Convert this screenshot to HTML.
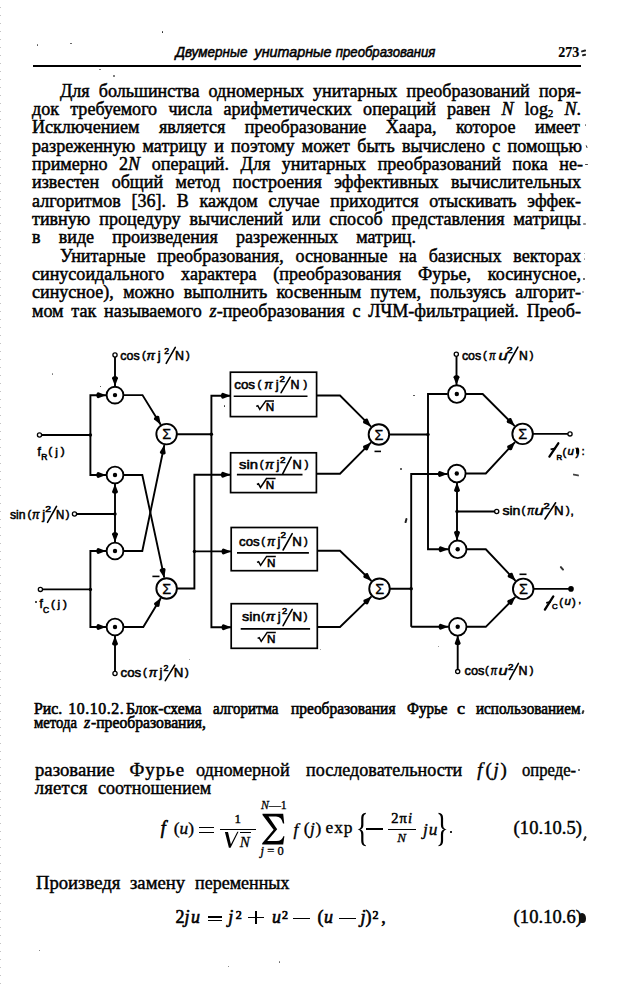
<!DOCTYPE html>
<html><head><meta charset="utf-8"><style>
html,body{margin:0;padding:0;background:#fff;}
body{width:641px;height:990px;position:relative;overflow:hidden;}
.edge{position:absolute;left:0;top:0;width:1px;height:990px;background:repeating-linear-gradient(to bottom,transparent 0,transparent 7px,#c4c4c4 7px,#c4c4c4 8px);}
.t{position:absolute;white-space:nowrap;font-family:"Liberation Serif",serif;color:#000;-webkit-text-stroke:0.5px #000;}
.t sub{font-size:11px;vertical-align:-2px;line-height:0}
.t sup{font-size:11px;vertical-align:6px;line-height:0}
.dg{position:absolute;left:0;top:0}
.cp{font-family:"Liberation Serif",serif;fill:#000;stroke:#000;stroke-width:0.5px}
.lw{font-family:"Liberation Serif",serif;fill:#000;stroke:#000;stroke-width:0.6px}
.hd{font-family:"Liberation Sans",sans-serif;font-style:italic;fill:#000;stroke:#000;stroke-width:0.55px}
.pn{font-family:"Liberation Serif",serif;font-weight:bold;fill:#000;stroke:#000;stroke-width:0.2px}
.lb{font-family:"Liberation Sans",sans-serif;fill:#000;stroke:#000;stroke-width:0.55px}
.thin{stroke-width:0.1px}
.sup{font-size:9px}
.sub{font-size:9px}
.sg{font-family:"Liberation Sans",sans-serif;font-size:14.5px;fill:#000;stroke:#000;stroke-width:0.3px}
</style></head><body>
<div class="edge"></div>
<svg style="position:absolute;left:0;top:0" width="641" height="80"><g class="hd"><text x="175.5" y="57.2" textLength="72" lengthAdjust="spacingAndGlyphs" font-size="14.5" >Двумерные</text><text x="254.5" y="57.2" textLength="77" lengthAdjust="spacingAndGlyphs" font-size="14.5" >унитарные</text><text x="335.8" y="57.2" textLength="99.6" lengthAdjust="spacingAndGlyphs" font-size="14.5" >преобразования</text></g><g class="pn"><text x="558.3" y="56.8" textLength="21" lengthAdjust="spacingAndGlyphs" font-size="15.5" >273</text></g></svg>
<div style="position:absolute;left:32.5px;top:65.3px;width:548.5px;height:1.6px;background:#000"></div>
<div class="t" style="left:60px;top:80.69px;font-size:19.0px;line-height:19.0px;width:548.42px;text-align:justify;text-align-last:justify;transform:scaleX(0.95);transform-origin:0 0;">Для большинства одномерных унитарных преобразований поря-</div><div class="t" style="left:32px;top:99.01px;font-size:19.0px;line-height:19.0px;width:577.89px;text-align:justify;text-align-last:justify;transform:scaleX(0.95);transform-origin:0 0;">док требуемого числа арифметических операций равен <i>N</i> log<sub>2</sub> <i>N</i>.</div><div class="t" style="left:32px;top:117.34px;font-size:19.0px;line-height:19.0px;width:576.84px;text-align:justify;text-align-last:justify;transform:scaleX(0.95);transform-origin:0 0;">Исключением является преобразование Хаара, которое имеет</div><div class="t" style="left:32px;top:135.66px;font-size:19.0px;line-height:19.0px;width:578.95px;text-align:justify;text-align-last:justify;transform:scaleX(0.95);transform-origin:0 0;">разреженную матрицу и поэтому может быть вычислено с помощью</div><div class="t" style="left:32px;top:153.99px;font-size:19.0px;line-height:19.0px;width:580.00px;text-align:justify;text-align-last:justify;transform:scaleX(0.95);transform-origin:0 0;">примерно 2<i>N</i> операций. Для унитарных преобразований пока не-</div><div class="t" style="left:32px;top:172.31px;font-size:19.0px;line-height:19.0px;width:577.89px;text-align:justify;text-align-last:justify;transform:scaleX(0.95);transform-origin:0 0;">известен общий метод построения эффективных вычислительных</div><div class="t" style="left:32px;top:190.64px;font-size:19.0px;line-height:19.0px;width:577.89px;text-align:justify;text-align-last:justify;transform:scaleX(0.95);transform-origin:0 0;">алгоритмов [36]. В каждом случае приходится отыскивать эффек-</div><div class="t" style="left:32px;top:208.96px;font-size:19.0px;line-height:19.0px;width:577.89px;text-align:justify;text-align-last:justify;transform:scaleX(0.95);transform-origin:0 0;">тивную процедуру вычислений или способ представления матрицы</div><div class="t" style="left:32px;top:227.29px;font-size:19.0px;line-height:19.0px;width:404.21px;text-align:justify;text-align-last:justify;transform:scaleX(0.95);transform-origin:0 0;">в виде произведения разреженных матриц.</div><div class="t" style="left:60px;top:245.61px;font-size:19.0px;line-height:19.0px;width:548.42px;text-align:justify;text-align-last:justify;transform:scaleX(0.95);transform-origin:0 0;">Унитарные преобразования, основанные на базисных векторах</div><div class="t" style="left:32px;top:263.94px;font-size:19.0px;line-height:19.0px;width:577.89px;text-align:justify;text-align-last:justify;transform:scaleX(0.95);transform-origin:0 0;">синусоидального характера (преобразования Фурье, косинусное,</div><div class="t" style="left:32px;top:282.26px;font-size:19.0px;line-height:19.0px;width:577.89px;text-align:justify;text-align-last:justify;transform:scaleX(0.95);transform-origin:0 0;">синусное), можно выполнить косвенным путем, пользуясь алгорит-</div><div class="t" style="left:32px;top:300.59px;font-size:19.0px;line-height:19.0px;width:577.89px;text-align:justify;text-align-last:justify;transform:scaleX(0.95);transform-origin:0 0;">мом так называемого <i>z</i>-преобразования с ЛЧМ-фильтрацией. Преоб-</div>
<svg class="dg" width="641" height="990" viewBox="0 0 641 990"><g stroke="#000" fill="none" stroke-linecap="butt"><line x1="115" y1="357" x2="115" y2="386" stroke-width="1.9"/><path d="M115.00,386.00 L112.00,378.20 C112.00,375.70 118.00,375.70 118.00,378.20 Z" stroke="none" fill="#000"/><circle cx="115" cy="355" r="2.1" fill="#fff" stroke-width="1.3"/><line x1="115" y1="671.5" x2="115" y2="636" stroke-width="1.9"/><path d="M115.00,636.00 L118.00,643.80 C118.00,646.30 112.00,646.30 112.00,643.80 Z" stroke="none" fill="#000"/><circle cx="115" cy="673.5" r="2.1" fill="#fff" stroke-width="1.3"/><line x1="76.5" y1="514" x2="115" y2="514" stroke-width="1.9"/><circle cx="74.5" cy="514" r="2.1" fill="#fff" stroke-width="1.3"/><line x1="115" y1="484" x2="115" y2="542" stroke-width="1.9"/><path d="M115.00,484.00 L118.00,491.80 C118.00,494.30 112.00,494.30 112.00,491.80 Z" stroke="none" fill="#000"/><path d="M115.00,542.00 L112.00,534.20 C112.00,531.70 118.00,531.70 118.00,534.20 Z" stroke="none" fill="#000"/><circle cx="115" cy="514" r="1.7" fill="#000" stroke="none"/><line x1="41.5" y1="435" x2="90.4" y2="435" stroke-width="1.9"/><circle cx="39.5" cy="435" r="2.1" fill="#fff" stroke-width="1.3"/><polyline points="106,395.2 90.4,395.2 90.4,475 106,475" fill="none" stroke-width="1.9" stroke-linejoin="miter"/><path d="M106.00,395.20 L98.20,398.20 C95.70,398.20 95.70,392.20 98.20,392.20 Z" stroke="none" fill="#000"/><path d="M106.00,475.00 L98.20,478.00 C95.70,478.00 95.70,472.00 98.20,472.00 Z" stroke="none" fill="#000"/><circle cx="90.4" cy="435" r="1.7" fill="#000" stroke="none"/><line x1="42.4" y1="589.4" x2="90.4" y2="589.4" stroke-width="1.9"/><circle cx="40.4" cy="589.4" r="2.1" fill="#fff" stroke-width="1.3"/><polyline points="106,551 90.4,551 90.4,627 106,627" fill="none" stroke-width="1.9" stroke-linejoin="miter"/><path d="M106.00,551.00 L98.20,554.00 C95.70,554.00 95.70,548.00 98.20,548.00 Z" stroke="none" fill="#000"/><path d="M106.00,627.00 L98.20,630.00 C95.70,630.00 95.70,624.00 98.20,624.00 Z" stroke="none" fill="#000"/><circle cx="90.4" cy="589.4" r="1.7" fill="#000" stroke="none"/><polyline points="124,395.1 142.5,395.1 160.76,424.66" fill="none" stroke-width="1.9" stroke-linejoin="miter"/><path d="M160.76,424.66 L154.11,419.60 C152.79,417.47 157.90,414.32 159.21,416.45 Z" stroke="none" fill="#000"/><polyline points="124,551 142.3,551 164.34,444.97" fill="none" stroke-width="1.9" stroke-linejoin="miter"/><path d="M164.34,444.97 L165.69,453.22 C165.18,455.66 159.31,454.44 159.82,452.00 Z" stroke="none" fill="#000"/><polyline points="124,475 142.3,475 164.28,577.65" fill="none" stroke-width="1.9" stroke-linejoin="miter"/><path d="M164.28,577.65 L159.71,570.65 C159.19,568.21 165.06,566.95 165.58,569.39 Z" stroke="none" fill="#000"/><polyline points="124,627 143.3,627 160.85,598.0" fill="none" stroke-width="1.9" stroke-linejoin="miter"/><path d="M160.85,598.00 L159.38,606.23 C158.08,608.37 152.95,605.26 154.24,603.12 Z" stroke="none" fill="#000"/><line x1="152.4" y1="576.4" x2="159.5" y2="576.4" stroke-width="1.6"/><line x1="176" y1="434.3" x2="211.4" y2="434.3" stroke-width="1.9"/><polyline points="230.6,395.8 211.4,395.8 211.4,627.3 231.2,627.3" fill="none" stroke-width="1.9" stroke-linejoin="miter"/><path d="M230.60,395.80 L222.80,398.80 C220.30,398.80 220.30,392.80 222.80,392.80 Z" stroke="none" fill="#000"/><path d="M231.20,627.30 L223.40,630.30 C220.90,630.30 220.90,624.30 223.40,624.30 Z" stroke="none" fill="#000"/><circle cx="211.4" cy="434.3" r="1.7" fill="#000" stroke="none"/><polyline points="176.5,588.5 194.4,588.5 194.4,474.7 230.6,474.7" fill="none" stroke-width="1.9" stroke-linejoin="miter"/><line x1="194.4" y1="551.4" x2="231.2" y2="551.4" stroke-width="1.9"/><path d="M230.60,474.70 L222.80,477.70 C220.30,477.70 220.30,471.70 222.80,471.70 Z" stroke="none" fill="#000"/><path d="M231.20,551.40 L223.40,554.40 C220.90,554.40 220.90,548.40 223.40,548.40 Z" stroke="none" fill="#000"/><circle cx="194.4" cy="551.4" r="1.7" fill="#000" stroke="none"/><circle cx="115" cy="395.1" r="8.4" fill="#fff" stroke-width="1.85"/><circle cx="115" cy="395.1" r="2.2" fill="#000" stroke="none"/><circle cx="115" cy="475" r="8.4" fill="#fff" stroke-width="1.85"/><circle cx="115" cy="475" r="2.2" fill="#000" stroke="none"/><circle cx="115" cy="551" r="8.4" fill="#fff" stroke-width="1.85"/><circle cx="115" cy="551" r="2.2" fill="#000" stroke="none"/><circle cx="115" cy="627" r="8.4" fill="#fff" stroke-width="1.85"/><circle cx="115" cy="627" r="2.2" fill="#000" stroke="none"/><circle cx="166.6" cy="434.1" r="10.25" fill="#fff" stroke-width="1.9"/><text x="166.79999999999998" y="439.3" text-anchor="middle" class="sg">Σ</text><circle cx="166.6" cy="588.5" r="10.25" fill="#fff" stroke-width="1.9"/><text x="166.79999999999998" y="593.7" text-anchor="middle" class="sg">Σ</text><rect x="230.4" y="372.2" width="86.20000000000002" height="44.400000000000034" fill="none" stroke-width="1.7"/><rect x="230.6" y="452.8" width="85.79999999999998" height="39.80000000000001" fill="none" stroke-width="1.7"/><rect x="231.2" y="527.5" width="86.10000000000002" height="43.200000000000045" fill="none" stroke-width="1.7"/><rect x="231.2" y="603.7" width="86.10000000000002" height="44.59999999999991" fill="none" stroke-width="1.7"/><line x1="233.7" y1="396.2" x2="307.5" y2="396.2" stroke-width="1.6"/><line x1="236.9" y1="474.6" x2="302.5" y2="474.6" stroke-width="1.6"/><line x1="237" y1="552.9" x2="308.9" y2="552.9" stroke-width="1.6"/><line x1="240.7" y1="628.9" x2="310.1" y2="628.9" stroke-width="1.6"/><text x="234.20000000000002" y="389.3" class="lb" font-size="13" textLength="20.90" lengthAdjust="spacingAndGlyphs">cos</text><text x="257.59999999999997" y="388.40000000000003" class="lb" font-size="11.2" class="lb thin">(</text><text x="264.2" y="389.3" class="lb" font-size="12.5" font-style="italic" textLength="8.50" lengthAdjust="spacingAndGlyphs">π</text><text x="275.7" y="389.3" class="lb" font-size="13" >j</text><text x="279.5" y="382.0" class="lb" font-size="8.6" textLength="5.40" lengthAdjust="spacingAndGlyphs">2</text><line x1="290.2" y1="377.1" x2="281.1" y2="392.7" stroke-width="1.6" stroke-linecap="round"/><text x="290.5" y="389.3" class="lb" font-size="12.6" textLength="9.00" lengthAdjust="spacingAndGlyphs">N</text><text x="303.40000000000003" y="388.40000000000003" class="lb" font-size="11.2" class="lb thin">)</text><path d="M256.2,406.4 L257.8,405.7 L259.8,409.4 L265.8,400.9 L274,400.9" stroke-width="1.5" fill="none"/><text x="265.65" y="410.9" class="lb" font-size="11.7" >N</text><text x="239.1" y="469" class="lb" font-size="13" textLength="19.00" lengthAdjust="spacingAndGlyphs">sin</text><text x="259.7" y="468.1" class="lb" font-size="11.2" class="lb thin">(</text><text x="265.0" y="469" class="lb" font-size="12.5" font-style="italic" textLength="8.80" lengthAdjust="spacingAndGlyphs">π</text><text x="276.4" y="469" class="lb" font-size="13" >j</text><text x="279.90000000000003" y="462.6" class="lb" font-size="8.6" textLength="5.50" lengthAdjust="spacingAndGlyphs">2</text><line x1="291.2" y1="457.1" x2="282.8" y2="473.7" stroke-width="1.6" stroke-linecap="round"/><text x="292.5" y="469" class="lb" font-size="12.6" textLength="9.30" lengthAdjust="spacingAndGlyphs">N</text><text x="304.8" y="468.1" class="lb" font-size="11.2" class="lb thin">)</text><path d="M256.9,484.5 L258.5,483.8 L260.5,487.5 L266.5,478.5 L275.6,478.5" stroke-width="1.5" fill="none"/><text x="265.65" y="489" class="lb" font-size="11.7" >N</text><text x="239.1" y="546.2" class="lb" font-size="13" textLength="20.60" lengthAdjust="spacingAndGlyphs">cos</text><text x="261.29999999999995" y="545.3000000000001" class="lb" font-size="11.2" class="lb thin">(</text><text x="266.9" y="546.2" class="lb" font-size="12.5" font-style="italic" textLength="8.10" lengthAdjust="spacingAndGlyphs">π</text><text x="277.4" y="546.2" class="lb" font-size="13" >j</text><text x="280.5" y="538.3000000000001" class="lb" font-size="8.6" textLength="5.50" lengthAdjust="spacingAndGlyphs">2</text><line x1="292.2" y1="533.7" x2="283.1" y2="550" stroke-width="1.6" stroke-linecap="round"/><text x="292.20000000000005" y="546.2" class="lb" font-size="12.6" textLength="9.60" lengthAdjust="spacingAndGlyphs">N</text><text x="304.1" y="545.3000000000001" class="lb" font-size="11.2" class="lb thin">)</text><path d="M257,562.4 L258.6,561.6999999999999 L260.6,565.4 L266.6,556.4 L275.8,556.4" stroke-width="1.5" fill="none"/><text x="267.0" y="566.9" class="lb" font-size="11.7" >N</text><text x="242.1" y="621.3" class="lb" font-size="13" textLength="18.30" lengthAdjust="spacingAndGlyphs">sin</text><text x="261.09999999999997" y="620.4" class="lb" font-size="11.2" class="lb thin">(</text><text x="265.8" y="621.3" class="lb" font-size="12.5" font-style="italic" textLength="9.30" lengthAdjust="spacingAndGlyphs">π</text><text x="277.7" y="621.3" class="lb" font-size="13" >j</text><text x="282.1" y="614.3000000000001" class="lb" font-size="8.6" textLength="5.20" lengthAdjust="spacingAndGlyphs">2</text><line x1="292.2" y1="609.4" x2="283.1" y2="625.7" stroke-width="1.6" stroke-linecap="round"/><text x="292.20000000000005" y="621.3" class="lb" font-size="12.6" textLength="9.90" lengthAdjust="spacingAndGlyphs">N</text><text x="303.8" y="620.4" class="lb" font-size="11.2" class="lb thin">)</text><path d="M257.6,638.4 L259.20000000000005,637.6999999999999 L261.20000000000005,641.4 L267.20000000000005,632.4 L275.8,632.4" stroke-width="1.5" fill="none"/><text x="267.0" y="642.9" class="lb" font-size="11.7" >N</text><polyline points="316.4,395.5 340,395.5 371.06,426.64" fill="none" stroke-width="1.9" stroke-linejoin="miter"/><path d="M371.06,426.64 L363.43,423.24 C361.66,421.47 365.91,417.23 367.68,419.00 Z" stroke="none" fill="#000"/><polyline points="316.4,473.7 340,473.7 371.08,442.38" fill="none" stroke-width="1.9" stroke-linejoin="miter"/><path d="M371.08,442.38 L367.72,450.03 C365.95,451.80 361.70,447.58 363.46,445.80 Z" stroke="none" fill="#000"/><polyline points="317.3,550.7 340,550.7 371.5,581.0" fill="none" stroke-width="1.9" stroke-linejoin="miter"/><path d="M371.50,581.00 L363.80,577.75 C362.00,576.02 366.16,571.70 367.96,573.43 Z" stroke="none" fill="#000"/><polyline points="317.3,627 340,627 371.53,596.43" fill="none" stroke-width="1.9" stroke-linejoin="miter"/><path d="M371.53,596.43 L368.02,604.01 C366.22,605.75 362.05,601.45 363.84,599.71 Z" stroke="none" fill="#000"/><line x1="374.5" y1="451.4" x2="381" y2="451.4" stroke-width="1.6"/><line x1="389" y1="434.5" x2="428" y2="434.5" stroke-width="1.9"/><polyline points="447.5,394 428,394 428,549.3 448.3,549.3" fill="none" stroke-width="1.9" stroke-linejoin="miter"/><path d="M448.30,549.30 L440.50,552.30 C438.00,552.30 438.00,546.30 440.50,546.30 Z" stroke="none" fill="#000"/><circle cx="428" cy="434.5" r="1.7" fill="#000" stroke="none"/><polyline points="390,588.7 411.2,588.7 411.2,474 447.5,474" fill="none" stroke-width="1.9" stroke-linejoin="miter"/><line x1="411.2" y1="588.7" x2="411.2" y2="626.8" stroke-width="1.9"/><line x1="411.2" y1="626.8" x2="448.3" y2="626.8" stroke-width="1.9"/><path d="M447.50,474.00 L439.70,477.00 C437.20,477.00 437.20,471.00 439.70,471.00 Z" stroke="none" fill="#000"/><path d="M448.30,626.80 L440.50,629.80 C438.00,629.80 438.00,623.80 440.50,623.80 Z" stroke="none" fill="#000"/><circle cx="411.2" cy="588.7" r="1.7" fill="#000" stroke="none"/><line x1="456.5" y1="356.5" x2="456.5" y2="385" stroke-width="1.9"/><path d="M456.50,385.00 L453.50,377.20 C453.50,374.70 459.50,374.70 459.50,377.20 Z" stroke="none" fill="#000"/><circle cx="456.3" cy="354.3" r="2.1" fill="#fff" stroke-width="1.3"/><line x1="498.5" y1="511.5" x2="457" y2="511.5" stroke-width="1.9"/><circle cx="496.7" cy="511.5" r="2.1" fill="#fff" stroke-width="1.3"/><line x1="457" y1="482.5" x2="457" y2="540.5" stroke-width="1.9"/><path d="M457.00,482.50 L460.00,490.30 C460.00,492.80 454.00,492.80 454.00,490.30 Z" stroke="none" fill="#000"/><path d="M457.00,540.50 L454.00,532.70 C454.00,530.20 460.00,530.20 460.00,532.70 Z" stroke="none" fill="#000"/><circle cx="457" cy="511.5" r="1.7" fill="#000" stroke="none"/><line x1="457.7" y1="669.5" x2="457.7" y2="635.5" stroke-width="1.9"/><path d="M457.70,635.50 L460.70,643.30 C460.70,645.80 454.70,645.80 454.70,643.30 Z" stroke="none" fill="#000"/><circle cx="457.7" cy="671.6" r="2.1" fill="#fff" stroke-width="1.3"/><polyline points="466,394 482.7,394 514.75,426.05" fill="none" stroke-width="1.9" stroke-linejoin="miter"/><path d="M514.75,426.05 L507.11,422.66 C505.35,420.89 509.59,416.65 511.36,418.41 Z" stroke="none" fill="#000"/><polyline points="466,473.5 485.8,473.5 515.04,442.03" fill="none" stroke-width="1.9" stroke-linejoin="miter"/><path d="M515.04,442.03 L511.93,449.79 C510.23,451.62 505.83,447.53 507.53,445.70 Z" stroke="none" fill="#000"/><polyline points="467,549.3 485.8,549.3 515.58,580.83" fill="none" stroke-width="1.9" stroke-linejoin="miter"/><path d="M515.58,580.83 L508.04,577.22 C506.33,575.40 510.69,571.28 512.41,573.10 Z" stroke="none" fill="#000"/><polyline points="467,626.8 485.8,626.8 515.4,596.8" fill="none" stroke-width="1.9" stroke-linejoin="miter"/><path d="M515.40,596.80 L512.06,604.46 C510.30,606.24 506.03,602.02 507.79,600.25 Z" stroke="none" fill="#000"/><line x1="533" y1="433.9" x2="568" y2="433.9" stroke-width="1.9"/><circle cx="570" cy="433.9" r="2.1" fill="#fff" stroke-width="1.3"/><line x1="533.5" y1="588.9" x2="571" y2="588.9" stroke-width="1.9"/><circle cx="571" cy="588.9" r="2.8" fill="#000" stroke="none"/><line x1="519.5" y1="574.3" x2="526.5" y2="574.3" stroke-width="1.6"/><circle cx="456.8" cy="394" r="8.8" fill="#fff" stroke-width="1.85"/><circle cx="456.8" cy="394" r="2.2" fill="#000" stroke="none"/><circle cx="456.8" cy="473.5" r="8.8" fill="#fff" stroke-width="1.85"/><circle cx="456.8" cy="473.5" r="2.2" fill="#000" stroke="none"/><circle cx="457.7" cy="549.3" r="8.8" fill="#fff" stroke-width="1.85"/><circle cx="457.7" cy="549.3" r="2.2" fill="#000" stroke="none"/><circle cx="457.7" cy="626.8" r="8.8" fill="#fff" stroke-width="1.85"/><circle cx="457.7" cy="626.8" r="2.2" fill="#000" stroke="none"/><circle cx="378.9" cy="434.5" r="10.25" fill="#fff" stroke-width="1.9"/><text x="379.09999999999997" y="439.7" text-anchor="middle" class="sg">Σ</text><circle cx="379.5" cy="588.7" r="10.25" fill="#fff" stroke-width="1.9"/><text x="379.7" y="593.9000000000001" text-anchor="middle" class="sg">Σ</text><circle cx="522.6" cy="433.9" r="10.25" fill="#fff" stroke-width="1.9"/><text x="522.8000000000001" y="439.09999999999997" text-anchor="middle" class="sg">Σ</text><circle cx="523.2" cy="588.9" r="10.25" fill="#fff" stroke-width="1.9"/><text x="523.4000000000001" y="594.1" text-anchor="middle" class="sg">Σ</text><text x="120.30000000000001" y="360.2" class="lb" font-size="13" textLength="19.30" lengthAdjust="spacingAndGlyphs">cos</text><text x="141.9" y="359.3" class="lb" font-size="11.2" class="lb thin">(</text><text x="146.5" y="360.2" class="lb" font-size="12.5" font-style="italic" textLength="8.50" lengthAdjust="spacingAndGlyphs">π</text><text x="157.7" y="360.2" class="lb" font-size="13" >j</text><text x="164.29999999999998" y="353.5" class="lb" font-size="8.6" textLength="4.80" lengthAdjust="spacingAndGlyphs">2</text><line x1="175.3" y1="347.4" x2="166.2" y2="363.4" stroke-width="1.6" stroke-linecap="round"/><text x="175.0" y="360.2" class="lb" font-size="12.6" textLength="9.00" lengthAdjust="spacingAndGlyphs">N</text><text x="186.0" y="359.3" class="lb" font-size="11.2" class="lb thin">)</text><text x="9.9" y="518.5" class="lb" font-size="13" textLength="15.60" lengthAdjust="spacingAndGlyphs">sin</text><text x="27.4" y="517.6" class="lb" font-size="11.2" class="lb thin">(</text><text x="31.999999999999996" y="518.5" class="lb" font-size="12.5" font-style="italic" textLength="7.50" lengthAdjust="spacingAndGlyphs">π</text><text x="42.2" y="518.5" class="lb" font-size="13" >j</text><text x="45.2" y="512.1" class="lb" font-size="8.6" textLength="5.80" lengthAdjust="spacingAndGlyphs">2</text><line x1="56.5" y1="506.4" x2="47.5" y2="522.3" stroke-width="1.6" stroke-linecap="round"/><text x="56.0" y="518.5" class="lb" font-size="12.6" textLength="8.30" lengthAdjust="spacingAndGlyphs">N</text><text x="65.7" y="517.6" class="lb" font-size="11.2" class="lb thin">)</text><text x="120.60000000000001" y="676.7" class="lb" font-size="13" textLength="20.60" lengthAdjust="spacingAndGlyphs">cos</text><text x="143.1" y="675.8000000000001" class="lb" font-size="11.2" class="lb thin">(</text><text x="148.7" y="676.7" class="lb" font-size="12.5" font-style="italic" textLength="8.50" lengthAdjust="spacingAndGlyphs">π</text><text x="159.6" y="676.7" class="lb" font-size="13" >j</text><text x="163.6" y="670.9" class="lb" font-size="8.6" textLength="4.90" lengthAdjust="spacingAndGlyphs">2</text><line x1="174.7" y1="665.1" x2="165.3" y2="680.7" stroke-width="1.6" stroke-linecap="round"/><text x="173.79999999999998" y="676.7" class="lb" font-size="12.6" textLength="9.60" lengthAdjust="spacingAndGlyphs">N</text><text x="185.10000000000002" y="675.8000000000001" class="lb" font-size="11.2" class="lb thin">)</text><text x="461.9" y="359.8" class="lb" font-size="13" textLength="19.30" lengthAdjust="spacingAndGlyphs">cos</text><text x="483.09999999999997" y="358.90000000000003" class="lb" font-size="11.2" class="lb thin">(</text><text x="489.09999999999997" y="359.8" class="lb" font-size="12.5" font-style="italic" textLength="6.60" lengthAdjust="spacingAndGlyphs">π</text><text x="498.59999999999997" y="359.8" class="lb" font-size="13" font-style="italic" textLength="9.20" lengthAdjust="spacingAndGlyphs">u</text><text x="506.8" y="353.20000000000005" class="lb" font-size="8.6" textLength="5.90" lengthAdjust="spacingAndGlyphs">2</text><line x1="517.9" y1="347.1" x2="509" y2="363" stroke-width="1.6" stroke-linecap="round"/><text x="518.9" y="359.8" class="lb" font-size="12.6" textLength="8.80" lengthAdjust="spacingAndGlyphs">N</text><text x="529.8" y="358.90000000000003" class="lb" font-size="11.2" class="lb thin">)</text><text x="502.4" y="515.2" class="lb" font-size="13" textLength="18.00" lengthAdjust="spacingAndGlyphs">sin</text><text x="521.4" y="514.3000000000001" class="lb" font-size="11.2" class="lb thin">(</text><text x="527.0" y="515.2" class="lb" font-size="12.5" font-style="italic" textLength="7.30" lengthAdjust="spacingAndGlyphs">π</text><text x="534.4" y="515.2" class="lb" font-size="13" font-style="italic" textLength="9.30" lengthAdjust="spacingAndGlyphs">u</text><text x="543.6" y="509.20000000000005" class="lb" font-size="8.6" textLength="6.20" lengthAdjust="spacingAndGlyphs">2</text><line x1="555.6" y1="502.8" x2="545" y2="519" stroke-width="1.6" stroke-linecap="round"/><text x="554.1" y="515.2" class="lb" font-size="12.6" textLength="9.60" lengthAdjust="spacingAndGlyphs">N</text><text x="566.0" y="514.3000000000001" class="lb" font-size="11.2" class="lb thin">)</text><text x="570.5" y="515.2" class="lb" font-size="11.7" >,</text><text x="464.59999999999997" y="675.2" class="lb" font-size="13" textLength="19.90" lengthAdjust="spacingAndGlyphs">cos</text><text x="484.9" y="674.3000000000001" class="lb" font-size="11.2" class="lb thin">(</text><text x="490.5" y="675.2" class="lb" font-size="12.5" font-style="italic" textLength="6.70" lengthAdjust="spacingAndGlyphs">π</text><text x="498.4" y="675.2" class="lb" font-size="13" font-style="italic" textLength="9.10" lengthAdjust="spacingAndGlyphs">u</text><text x="508.0" y="669.8000000000001" class="lb" font-size="8.6" textLength="5.50" lengthAdjust="spacingAndGlyphs">2</text><line x1="518.4" y1="663.4" x2="509.7" y2="679.4" stroke-width="1.6" stroke-linecap="round"/><text x="518.4" y="675.2" class="lb" font-size="12.6" textLength="9.00" lengthAdjust="spacingAndGlyphs">N</text><text x="529.8" y="674.3000000000001" class="lb" font-size="11.2" class="lb thin">)</text><text x="37.6" y="456" class="lb" font-size="12" >f</text><text x="41.2" y="460" class="lb" font-size="8.5" >R</text><text x="48.3" y="455.3" class="lb" font-size="11.7" class="lb thin">(</text><text x="55.2" y="456" class="lb" font-size="11.7" >j</text><text x="60.8" y="455.3" class="lb" font-size="11.7" class="lb thin">)</text><text x="39.5" y="607.5" class="lb" font-size="12" >f</text><text x="43" y="612.6" class="lb" font-size="8.5" >C</text><text x="51.1" y="607.5" class="lb" font-size="11.7" class="lb thin">(</text><text x="57.4" y="607.5" class="lb" font-size="11.7" >j</text><text x="63.1" y="607.5" class="lb" font-size="11.7" class="lb thin">)</text><line x1="549.4" y1="456.6" x2="558.3" y2="443.3" stroke-width="2.3" stroke-linecap="round"/><line x1="550.6" y1="449.4" x2="555.6" y2="448.4" stroke-width="1.8"/><text x="556.6" y="460.3" class="lb" font-size="7.8" >R</text><text x="562.4" y="455.6" class="lb" font-size="11.2" class="lb thin">(</text><text x="567.4" y="455.3" class="lb" font-size="11.5" font-style="italic" stroke-width="0.9">u</text><text x="575.4" y="455.6" class="lb" font-size="11.2" >)</text><ellipse cx="577.6" cy="451" rx="1.6" ry="3.5" fill="#000" stroke="none"/><text x="581.8" y="455" class="lb" font-size="10" >:</text><line x1="544.9" y1="609.6" x2="553.3" y2="596.4" stroke-width="2.3" stroke-linecap="round"/><line x1="546.2" y1="602.8" x2="550.8" y2="601.8" stroke-width="1.8"/><text x="552.1" y="609.2" class="lb" font-size="7.8" >C</text><text x="559.2" y="605.5" class="lb" font-size="11.2" class="lb thin">(</text><text x="564.4" y="605.4" class="lb" font-size="11.5" font-style="italic" stroke-width="0.9">u</text><text x="572" y="605.5" class="lb" font-size="11.2" class="lb thin">)</text><text x="578.6" y="603" class="lb" font-size="9" >,</text></g></svg>
<span style="position:absolute;left:33.9px;top:699.52px;font-size:15.8px;line-height:17.497px;white-space:nowrap;font-family:&quot;Liberation Serif&quot;;-webkit-text-stroke:0.6px #000;transform:scaleX(0.9963);transform-origin:0 0;">Рис.</span><span style="position:absolute;left:68.2px;top:699.52px;font-size:15.8px;line-height:17.497px;white-space:nowrap;font-family:&quot;Liberation Serif&quot;;-webkit-text-stroke:0.6px #000;transform:scaleX(1.0000);transform-origin:0 0;letter-spacing:0.579px;">10.10.2.</span><span style="position:absolute;left:125.5px;top:699.52px;font-size:15.8px;line-height:17.497px;white-space:nowrap;font-family:&quot;Liberation Serif&quot;;-webkit-text-stroke:0.6px #000;transform:scaleX(0.9972);transform-origin:0 0;">Блок-схема</span><span style="position:absolute;left:212.5px;top:699.52px;font-size:15.8px;line-height:17.497px;white-space:nowrap;font-family:&quot;Liberation Serif&quot;;-webkit-text-stroke:0.6px #000;transform:scaleX(0.9467);transform-origin:0 0;">алгоритма</span><span style="position:absolute;left:290.5px;top:699.52px;font-size:15.8px;line-height:17.497px;white-space:nowrap;font-family:&quot;Liberation Serif&quot;;-webkit-text-stroke:0.6px #000;transform:scaleX(0.9794);transform-origin:0 0;">преобразования</span><span style="position:absolute;left:407.2px;top:699.52px;font-size:15.8px;line-height:17.497px;white-space:nowrap;font-family:&quot;Liberation Serif&quot;;-webkit-text-stroke:0.6px #000;transform:scaleX(0.9529);transform-origin:0 0;">Фурье</span><span style="position:absolute;left:457px;top:699.52px;font-size:15.8px;line-height:17.497px;white-space:nowrap;font-family:&quot;Liberation Serif&quot;;-webkit-text-stroke:0.6px #000;transform:scaleX(1.1403);transform-origin:0 0;">с</span><span style="position:absolute;left:475.8px;top:699.52px;font-size:15.8px;line-height:17.497px;white-space:nowrap;font-family:&quot;Liberation Serif&quot;;-webkit-text-stroke:0.6px #000;transform:scaleX(0.9594);transform-origin:0 0;">использованием</span><span style="position:absolute;left:33.9px;top:713.52px;font-size:15.8px;line-height:17.497px;white-space:nowrap;font-family:&quot;Liberation Serif&quot;;-webkit-text-stroke:0.6px #000;transform:scaleX(0.9285);transform-origin:0 0;">метода</span><span style="position:absolute;left:83.8px;top:713.52px;font-size:15.8px;line-height:17.497px;white-space:nowrap;font-family:&quot;Liberation Serif&quot;;-webkit-text-stroke:0.6px #000;transform:scaleX(1.0071);transform-origin:0 0;font-style:italic;">z</span><span style="position:absolute;left:90.8px;top:713.52px;font-size:15.8px;line-height:17.497px;white-space:nowrap;font-family:&quot;Liberation Serif&quot;;-webkit-text-stroke:0.6px #000;transform:scaleX(0.9922);transform-origin:0 0;">-преобразования,</span><span style="position:absolute;left:34.7px;top:759.55px;font-size:18.8px;line-height:20.820px;white-space:nowrap;font-family:&quot;Liberation Serif&quot;;-webkit-text-stroke:0.45px #000;transform:scaleX(0.9965);transform-origin:0 0;">разование</span><span style="position:absolute;left:129.5px;top:759.55px;font-size:18.8px;line-height:20.820px;white-space:nowrap;font-family:&quot;Liberation Serif&quot;;-webkit-text-stroke:0.45px #000;transform:scaleX(1.0000);transform-origin:0 0;letter-spacing:0.992px;">Фурье</span><span style="position:absolute;left:195.7px;top:759.55px;font-size:18.8px;line-height:20.820px;white-space:nowrap;font-family:&quot;Liberation Serif&quot;;-webkit-text-stroke:0.45px #000;transform:scaleX(0.9700);transform-origin:0 0;">одномерной</span><span style="position:absolute;left:305.9px;top:759.55px;font-size:18.8px;line-height:20.820px;white-space:nowrap;font-family:&quot;Liberation Serif&quot;;-webkit-text-stroke:0.45px #000;transform:scaleX(0.9642);transform-origin:0 0;">последовательности</span><span style="position:absolute;left:477.3px;top:759.55px;font-size:18.8px;line-height:20.820px;white-space:nowrap;font-family:&quot;Liberation Serif&quot;;-webkit-text-stroke:0.45px #000;transform:scaleX(1.0000);transform-origin:0 0;font-style:italic;">f</span><span style="position:absolute;left:485.6px;top:759.55px;font-size:18.8px;line-height:20.820px;white-space:nowrap;font-family:&quot;Liberation Serif&quot;;-webkit-text-stroke:0.45px #000;transform:scaleX(1.0000);transform-origin:0 0;letter-spacing:1.675px;">(<i>j</i>)</span><span style="position:absolute;left:521.9px;top:759.55px;font-size:18.8px;line-height:20.820px;white-space:nowrap;font-family:&quot;Liberation Serif&quot;;-webkit-text-stroke:0.45px #000;transform:scaleX(0.8858);transform-origin:0 0;">опреде-</span><span style="position:absolute;left:34.7px;top:777.85px;font-size:18.8px;line-height:20.820px;white-space:nowrap;font-family:&quot;Liberation Serif&quot;;-webkit-text-stroke:0.45px #000;transform:scaleX(1.0000);transform-origin:0 0;letter-spacing:0.167px;">ляется</span><span style="position:absolute;left:97.9px;top:777.85px;font-size:18.8px;line-height:20.820px;white-space:nowrap;font-family:&quot;Liberation Serif&quot;;-webkit-text-stroke:0.45px #000;transform:scaleX(0.9614);transform-origin:0 0;">соотношением</span><span style="position:absolute;left:35.85px;top:873.05px;font-size:18.8px;line-height:20.820px;white-space:nowrap;font-family:&quot;Liberation Serif&quot;;-webkit-text-stroke:0.45px #000;transform:scaleX(0.9928);transform-origin:0 0;">Произведя</span><span style="position:absolute;left:130px;top:873.05px;font-size:18.8px;line-height:20.820px;white-space:nowrap;font-family:&quot;Liberation Serif&quot;;-webkit-text-stroke:0.45px #000;transform:scaleX(0.9924);transform-origin:0 0;">замену</span><span style="position:absolute;left:195px;top:873.05px;font-size:18.8px;line-height:20.820px;white-space:nowrap;font-family:&quot;Liberation Serif&quot;;-webkit-text-stroke:0.45px #000;transform:scaleX(0.9588);transform-origin:0 0;">переменных</span>

<span style="position:absolute;left:160.8px;top:819.16px;font-size:18px;line-height:19.934px;white-space:nowrap;font-family:&quot;Liberation Serif&quot;;-webkit-text-stroke:0.65px #000;transform:scaleX(1.0000);transform-origin:0 0;font-style:italic;">f</span><span style="position:absolute;left:173.7px;top:819.49px;font-size:17.4px;line-height:19.269px;white-space:nowrap;font-family:&quot;Liberation Serif&quot;;-webkit-text-stroke:0.35px #000;transform:scaleX(1.0000);transform-origin:0 0;letter-spacing:0.002px;">(<i>u</i>)</span><div style="position:absolute;left:199px;top:826.80px;width:15.40px;height:1.4px;background:#000"></div><div style="position:absolute;left:199px;top:831.70px;width:15.40px;height:1.4px;background:#000"></div><span style="position:absolute;left:234.6px;top:812.32px;font-size:13px;line-height:14.396px;white-space:nowrap;font-family:&quot;Liberation Serif&quot;;-webkit-text-stroke:0.4px #000;transform:scaleX(1.0000);transform-origin:0 0;">1</span><div style="position:absolute;left:220px;top:828.80px;width:35.60px;height:1.2px;background:#000"></div><div style="position:absolute;left:240px;top:832.25px;width:11.30px;height:1.1px;background:#000"></div><span style="position:absolute;left:239.8px;top:833.53px;font-size:15px;line-height:16.611px;white-space:nowrap;font-family:&quot;Liberation Serif&quot;;-webkit-text-stroke:0.3px #000;transform:scaleX(1.0000);transform-origin:0 0;font-style:italic;">N</span><span style="position:absolute;left:260.6px;top:799.31px;font-size:12px;line-height:13.289px;white-space:nowrap;font-family:&quot;Liberation Serif&quot;;-webkit-text-stroke:0.3px #000;transform:scaleX(0.9859);transform-origin:0 0;"><i>N</i>—1</span><span style="position:absolute;left:260.6px;top:845.11px;font-size:12.5px;line-height:13.843px;white-space:nowrap;font-family:&quot;Liberation Serif&quot;;-webkit-text-stroke:0.35px #000;transform:scaleX(1.0000);transform-origin:0 0;letter-spacing:0.026px;"><i>j</i> = 0</span><span style="position:absolute;left:293.5px;top:819.69px;font-size:17.4px;line-height:19.269px;white-space:nowrap;font-family:&quot;Liberation Serif&quot;;-webkit-text-stroke:0.35px #000;transform:scaleX(1.0000);transform-origin:0 0;font-style:italic;">f</span><span style="position:absolute;left:303.75px;top:819.49px;font-size:17.4px;line-height:19.269px;white-space:nowrap;font-family:&quot;Liberation Serif&quot;;-webkit-text-stroke:0.35px #000;transform:scaleX(1.0000);transform-origin:0 0;letter-spacing:0.531px;">(<i>j</i>)</span><span style="position:absolute;left:325.6px;top:817.79px;font-size:17.4px;line-height:19.269px;white-space:nowrap;font-family:&quot;Liberation Serif&quot;;-webkit-text-stroke:0.35px #000;transform:scaleX(1.0000);transform-origin:0 0;letter-spacing:0.887px;">exp</span><div style="position:absolute;left:366.3px;top:828.35px;width:17.10px;height:1.3px;background:#000"></div><span style="position:absolute;left:391.2px;top:810.28px;font-size:14.5px;line-height:16.058px;white-space:nowrap;font-family:&quot;Liberation Serif&quot;;-webkit-text-stroke:0.5px #000;transform:scaleX(1.0000);transform-origin:0 0;letter-spacing:1.095px;">2π<i>i</i></span><div style="position:absolute;left:387.7px;top:829.05px;width:28.30px;height:1.1px;background:#000"></div><span style="position:absolute;left:397.2px;top:830.62px;font-size:13px;line-height:14.396px;white-space:nowrap;font-family:&quot;Liberation Serif&quot;;-webkit-text-stroke:0.35px #000;transform:scaleX(1.0000);transform-origin:0 0;font-style:italic;">N</span><span style="position:absolute;left:422.9px;top:820.39px;font-size:17.4px;line-height:19.269px;white-space:nowrap;font-family:&quot;Liberation Serif&quot;;-webkit-text-stroke:0.35px #000;transform:scaleX(1.0000);transform-origin:0 0;letter-spacing:1.069px;"><i>ju</i></span><span style="position:absolute;left:513.6px;top:817.71px;font-size:18.5px;line-height:20.487px;white-space:nowrap;font-family:&quot;Liberation Serif&quot;;-webkit-text-stroke:0.45px #000;transform:scaleX(1.0000);transform-origin:0 0;letter-spacing:0.071px;">(10.10.5)</span><div style="position:absolute;left:450.3px;top:831.3px;width:2px;height:2px;border-radius:1px;background:#000"></div><span style="position:absolute;left:175.6px;top:907.96px;font-size:18px;line-height:19.934px;white-space:nowrap;font-family:&quot;Liberation Serif&quot;;-webkit-text-stroke:0.6px #000;transform:scaleX(1.0000);transform-origin:0 0;">2</span><span style="position:absolute;left:184.4px;top:907.96px;font-size:18px;line-height:19.934px;white-space:nowrap;font-family:&quot;Liberation Serif&quot;;-webkit-text-stroke:0.6px #000;transform:scaleX(1.0000);transform-origin:0 0;letter-spacing:1.584px;"><i>ju</i></span><span style="position:absolute;left:228.2px;top:907.96px;font-size:18px;line-height:19.934px;white-space:nowrap;font-family:&quot;Liberation Serif&quot;;-webkit-text-stroke:0.6px #000;transform:scaleX(1.0000);transform-origin:0 0;"><i>j</i></span><span style="position:absolute;left:271.9px;top:907.96px;font-size:18px;line-height:19.934px;white-space:nowrap;font-family:&quot;Liberation Serif&quot;;-webkit-text-stroke:0.6px #000;transform:scaleX(1.0000);transform-origin:0 0;"><i>u</i></span><span style="position:absolute;left:317.5px;top:907.96px;font-size:18px;line-height:19.934px;white-space:nowrap;font-family:&quot;Liberation Serif&quot;;-webkit-text-stroke:0.6px #000;transform:scaleX(1.0000);transform-origin:0 0;letter-spacing:0.600px;">(<i>u</i></span><span style="position:absolute;left:360.5px;top:907.96px;font-size:18px;line-height:19.934px;white-space:nowrap;font-family:&quot;Liberation Serif&quot;;-webkit-text-stroke:0.6px #000;transform:scaleX(1.0000);transform-origin:0 0;"><i>j</i>)</span><span style="position:absolute;left:381.25px;top:907.96px;font-size:18px;line-height:19.934px;white-space:nowrap;font-family:&quot;Liberation Serif&quot;;-webkit-text-stroke:0.6px #000;transform:scaleX(1.0000);transform-origin:0 0;">,</span><span style="position:absolute;left:235.8px;margin-top:-4.5px;top:913.31px;font-size:12px;line-height:13.289px;white-space:nowrap;font-family:&quot;Liberation Serif&quot;;-webkit-text-stroke:0.7px #000;transform:scaleX(1.0000);transform-origin:0 0;">2</span><span style="position:absolute;left:281.9px;margin-top:-4.5px;top:913.31px;font-size:12px;line-height:13.289px;white-space:nowrap;font-family:&quot;Liberation Serif&quot;;-webkit-text-stroke:0.7px #000;transform:scaleX(1.0000);transform-origin:0 0;">2</span><span style="position:absolute;left:372.5px;margin-top:-4.5px;top:913.31px;font-size:12px;line-height:13.289px;white-space:nowrap;font-family:&quot;Liberation Serif&quot;;-webkit-text-stroke:0.7px #000;transform:scaleX(1.0000);transform-origin:0 0;">2</span><div style="position:absolute;left:207.5px;top:916.40px;width:14.40px;height:1.6px;background:#000"></div><div style="position:absolute;left:207.5px;top:919.80px;width:14.40px;height:1.6px;background:#000"></div><div style="position:absolute;left:248.1px;top:916.80px;width:15.65px;height:1.6px;background:#000"></div><div style="position:absolute;left:255.2px;top:910.60px;width:1.50px;height:13.8px;background:#000"></div><div style="position:absolute;left:293.1px;top:918.05px;width:16.90px;height:1.4px;background:#000"></div><div style="position:absolute;left:338.75px;top:918.05px;width:17.50px;height:1.4px;background:#000"></div><span style="position:absolute;left:513.6px;top:906.91px;font-size:18.5px;line-height:20.487px;white-space:nowrap;font-family:&quot;Liberation Serif&quot;;-webkit-text-stroke:0.45px #000;transform:scaleX(1.0000);transform-origin:0 0;letter-spacing:0.071px;">(10.10.6)</span><svg style="position:absolute;left:0;top:0" width="641" height="990"><g fill="#000" stroke="none"><path d="M224.9,831.9 L228,831.9 L230.9,844.2 L237.3,831.8 L238.5,831.8 L230.6,847.7 L228.9,847.7 Z"/><path d="M262.5,813.8 L283.2,813.8 L284.2,823.5 L283,823.5 Q281.5,816.6 276,816.6 L268.5,816.6 L277.2,829.2 L267.2,841 L276.5,841 Q282.2,841 283.3,836.3 L284.4,836.3 L283.2,844.4 L262.2,844.4 L262.2,843.2 L273.6,829.7 L262.5,815 Z"/><path d="M365.8,812.8 Q361.2,813.2 361.2,818 L361.2,824.5 Q361.2,829 357.6,829.5 Q361.2,830 361.2,834.5 L361.2,841 Q361.2,845.8 365.8,846.3 L365.8,845.2 Q363.4,844.6 363.4,840.5 L363.4,834 Q363.4,830.4 360.2,829.5 Q363.4,828.6 363.4,825 L363.4,818.5 Q363.4,814.4 365.8,813.9 Z"/><path d="M438.5,812.8 Q443.1,813.2 443.1,818 L443.1,824.5 Q443.1,829 446.7,829.5 Q443.1,830 443.1,834.5 L443.1,841 Q443.1,845.8 438.5,846.3 L438.5,845.2 Q440.9,844.6 440.9,840.5 L440.9,834 Q440.9,830.4 444.1,829.5 Q440.9,828.6 440.9,825 L440.9,818.5 Q440.9,814.4 438.5,813.9 Z"/></g></svg><div style="position:absolute;left:161.60px;top:31.10px;width:1.8px;height:1.8px;border-radius:0.8px;background:#222;transform:rotate(0deg)"></div><div style="position:absolute;left:36.90px;top:44.40px;width:1.2px;height:1.2px;border-radius:0.8px;background:#555;transform:rotate(0deg)"></div><div style="position:absolute;left:70.40px;top:42.80px;width:1.2px;height:1.2px;border-radius:0.8px;background:#555;transform:rotate(0deg)"></div><div style="position:absolute;left:99.40px;top:68.80px;width:1.2px;height:1.2px;border-radius:0.8px;background:#666;transform:rotate(0deg)"></div><div style="position:absolute;left:113.40px;top:75.40px;width:1.2px;height:1.2px;border-radius:0.8px;background:#666;transform:rotate(0deg)"></div><div style="position:absolute;left:581.25px;top:49.80px;width:4.5px;height:1.6px;border-radius:0.8px;background:#222;transform:rotate(-15deg)"></div><div style="position:absolute;left:581.80px;top:53.85px;width:4px;height:1.5px;border-radius:0.8px;background:#222;transform:rotate(-10deg)"></div><div style="position:absolute;left:583.50px;top:835.75px;width:1.6px;height:4.5px;border-radius:0.8px;background:#222;transform:rotate(25deg)"></div><div style="position:absolute;left:449.80px;top:831.20px;width:2px;height:2px;border-radius:0.8px;background:#222;transform:rotate(0deg)"></div><div style="position:absolute;left:579px;top:913px;width:7px;height:10px;border-radius:50% 60% 50% 40%;background:#111"></div><div style="position:absolute;left:99.70px;top:385.50px;width:1.8px;height:1.8px;border-radius:0.8px;background:#222;transform:rotate(0deg)"></div><div style="position:absolute;left:35.40px;top:601.20px;width:1.6px;height:1.6px;border-radius:0.8px;background:#222;transform:rotate(0deg)"></div><div style="position:absolute;left:413.25px;top:394.75px;width:1.5px;height:1.5px;border-radius:0.8px;background:#444;transform:rotate(0deg)"></div><div style="position:absolute;left:400.25px;top:468.25px;width:1.5px;height:1.5px;border-radius:0.8px;background:#444;transform:rotate(0deg)"></div><div style="position:absolute;left:405.20px;top:517.50px;width:1.6px;height:5px;border-radius:0.8px;background:#222;transform:rotate(15deg)"></div><div style="position:absolute;left:573.00px;top:474.25px;width:6px;height:1.5px;border-radius:0.8px;background:#444;transform:rotate(10deg)"></div><div style="position:absolute;left:561.25px;top:565.50px;width:1.5px;height:5px;border-radius:0.8px;background:#333;transform:rotate(-40deg)"></div><div style="position:absolute;left:582.25px;top:710.00px;width:1.5px;height:4px;border-radius:0.8px;background:#333;transform:rotate(20deg)"></div><div style="position:absolute;left:577.75px;top:769.30px;width:2.5px;height:1.4px;border-radius:0.8px;background:#555;transform:rotate(0deg)"></div><div style="position:absolute;left:584.80px;top:124.40px;width:1.6px;height:1.2px;border-radius:0.8px;background:#777;transform:rotate(0deg)"></div><div style="position:absolute;left:585.60px;top:144.90px;width:1.4px;height:2.6px;border-radius:0.7px;background:#333;transform:rotate(-25deg)"></div><div style="position:absolute;left:584.50px;top:163.50px;width:3px;height:1.4px;border-radius:0.8px;background:#444;transform:rotate(0deg)"></div><div style="position:absolute;left:583.00px;top:223.40px;width:3px;height:1.2px;border-radius:0.8px;background:#888;transform:rotate(0deg)"></div><div style="position:absolute;left:583.90px;top:252.70px;width:1.2px;height:1.6px;border-radius:0.8px;background:#999;transform:rotate(0deg)"></div><div style="position:absolute;left:583.90px;top:258.20px;width:1.2px;height:1.6px;border-radius:0.8px;background:#999;transform:rotate(0deg)"></div><div style="position:absolute;left:583.20px;top:278.30px;width:1.6px;height:1.4px;border-radius:0.8px;background:#555;transform:rotate(0deg)"></div><div style="position:absolute;left:582.30px;top:291.30px;width:1.4px;height:1.4px;border-radius:0.8px;background:#aaa;transform:rotate(0deg)"></div><div style="position:absolute;left:223.50px;top:405.10px;width:1.8px;height:1.8px;border-radius:0.8px;background:#333;transform:rotate(0deg)"></div><div style="position:absolute;left:437.95px;top:645.85px;width:1.3px;height:1.3px;border-radius:0.8px;background:#777;transform:rotate(0deg)"></div><div style="position:absolute;left:188.95px;top:658.95px;width:1.3px;height:1.3px;border-radius:0.8px;background:#888;transform:rotate(0deg)"></div><div style="position:absolute;left:319.95px;top:648.95px;width:1.3px;height:1.3px;border-radius:0.8px;background:#888;transform:rotate(0deg)"></div><div style="position:absolute;left:51.85px;top:373.35px;width:1.3px;height:1.3px;border-radius:0.8px;background:#777;transform:rotate(0deg)"></div><div style="position:absolute;left:39.05px;top:949.75px;width:1.3px;height:1.3px;border-radius:0.8px;background:#666;transform:rotate(0deg)"></div><div style="position:absolute;left:227.55px;top:966.15px;width:1.3px;height:1.3px;border-radius:0.8px;background:#666;transform:rotate(0deg)"></div><div style="position:absolute;left:279.05px;top:961.35px;width:1.3px;height:1.3px;border-radius:0.8px;background:#666;transform:rotate(0deg)"></div>
</body></html>
